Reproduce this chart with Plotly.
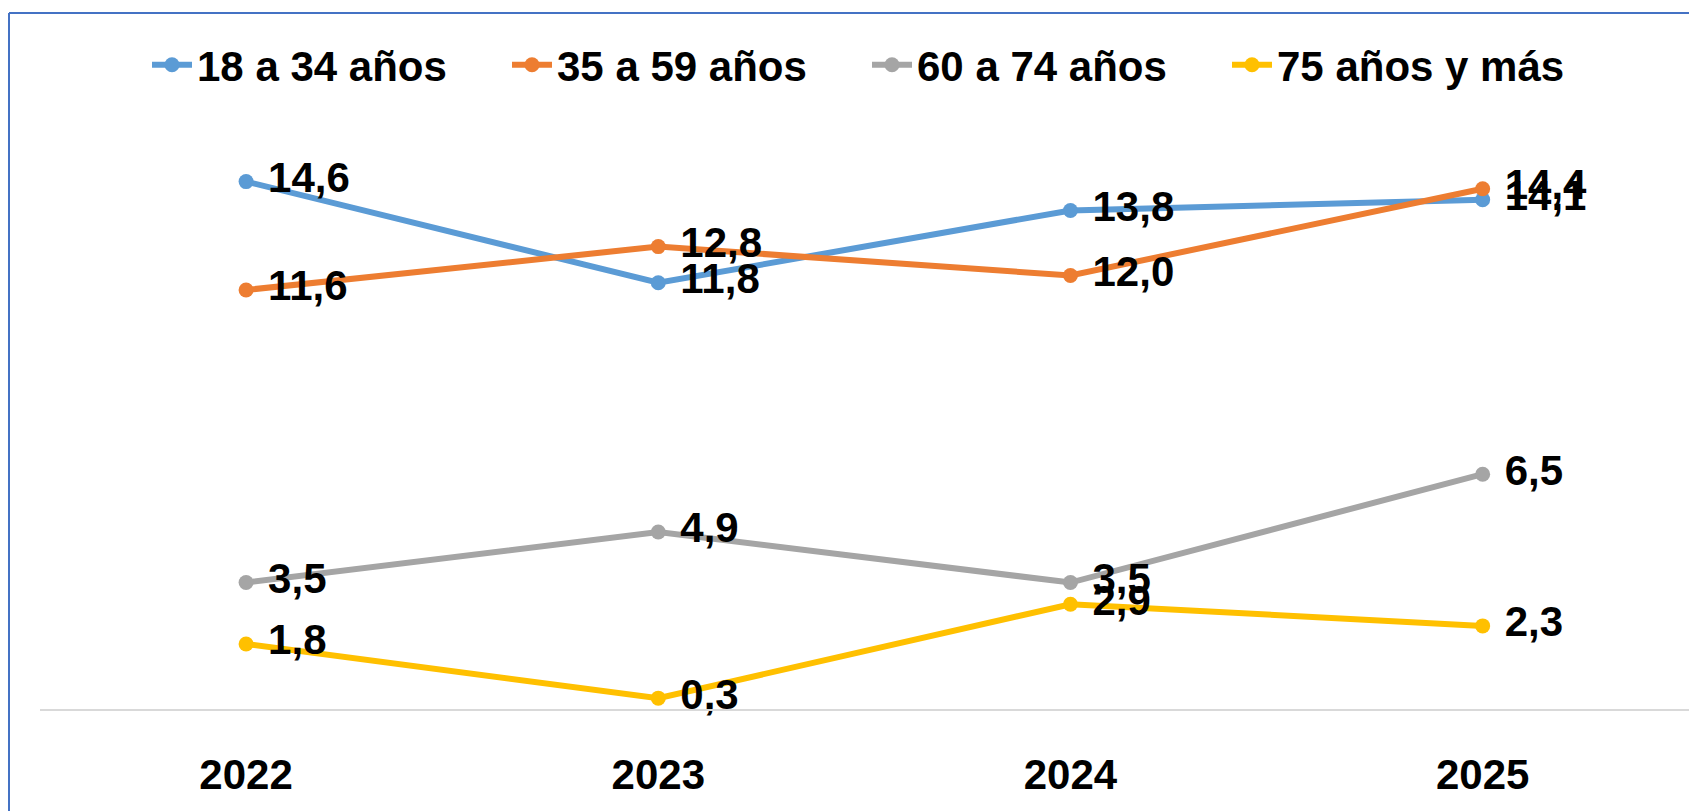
import plotly.graph_objects as go

# Data
years = ["2022", "2023", "2024", "2025"]
groups = ["18 a 34 años", "35 a 59 años", "60 a 74 años", "75 años y más"]
edad_18_34 = [14.6, 11.8, 13.8, 14.1]
edad_35_59 = [11.6, 12.8, 12.0, 14.4]
edad_60_74 = [3.5, 4.9, 3.5, 6.5]
edad_75_mas = [1.8, 0.3, 2.9, 2.3]

series = [edad_18_34, edad_35_59, edad_60_74, edad_75_mas]
colors = ["#5B9BD5", "#ED7D31", "#A5A5A5", "#FFC000"]

FONT = "Liberation Sans, Arial, sans-serif"
FS = 42

fig = go.Figure()

for name, values, color in zip(groups, series, colors):
    fig.add_trace(go.Scatter(
        x=years,
        y=values,
        name=name,
        mode="lines+markers+text",
        line=dict(color=color, width=6),
        marker=dict(color=color, size=15),
        texttemplate=" %{y:.1f}",
        textposition="middle right",
        textfont=dict(family=FONT, size=FS, color="black", weight="bold"),
        cliponaxis=False,
    ))

# page has an 8px body margin, so the figure is drawn 8px in from the corner
W, H = 1689, 803
L, R, T, B = 32, 0, 123, 102
pw, ph = W - L - R, H - T - B


def px_x(px):
    return (px - L) / pw


def px_y(py):
    return (H - B - py) / ph


# chart-area border (blue, left and top edges)
border = dict(color="#4472C4", width=2)
fig.add_shape(type="line", xref="paper", yref="paper",
              x0=px_x(1), x1=px_x(W + 20), y0=px_y(5), y1=px_y(5), line=border)
fig.add_shape(type="line", xref="paper", yref="paper",
              x0=px_x(1), x1=px_x(1), y0=px_y(5), y1=px_y(H + 20), line=border)

fig.update_layout(
    width=W,
    height=H,
    margin=dict(l=L, r=R, t=T, b=B),
    plot_bgcolor="white",
    paper_bgcolor="white",
    separators=",.",
    font=dict(family=FONT, size=FS, color="black", weight="bold"),
    showlegend=True,
    legend=dict(
        orientation="h",
        x=(859 - L) / pw,
        xanchor="center",
        y=px_y(57),
        yanchor="middle",
        font=dict(family=FONT, size=FS, color="black", weight="bold"),
        itemwidth=40,
        entrywidth=305,
        entrywidthmode="pixels",
        bgcolor="rgba(0,0,0,0)",
    ),
    xaxis=dict(
        type="category",
        range=[-0.5, 3.52],
        showgrid=False,
        showline=True,
        linecolor="#D9D9D9",
        linewidth=2,
        ticks="",
        ticklabelstandoff=28,
        tickfont=dict(family=FONT, size=FS, color="black", weight="bold"),
        zeroline=False,
    ),
    yaxis=dict(
        range=[0, 16],
        showgrid=False,
        showticklabels=False,
        showline=False,
        zeroline=False,
        ticks="",
    ),
)

fig.write_html("out.html")
